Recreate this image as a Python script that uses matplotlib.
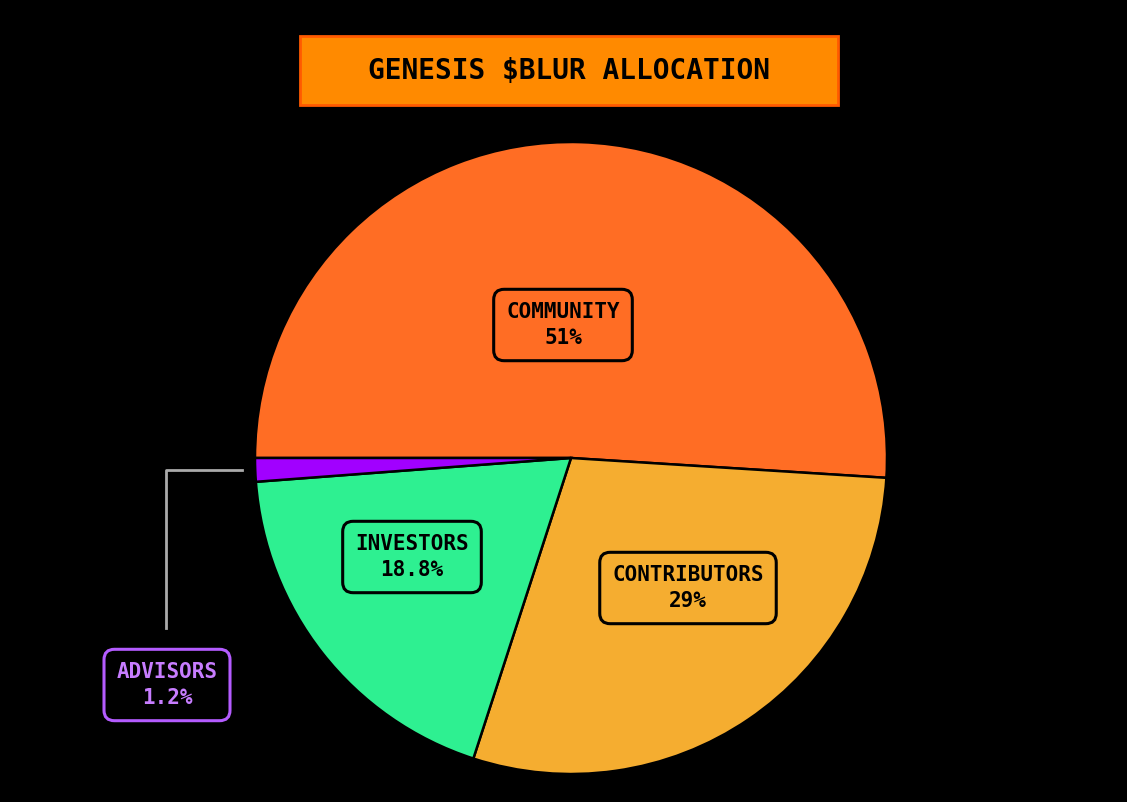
import matplotlib.pyplot as plt
from matplotlib.patches import Rectangle

labels = ["COMMUNITY", "CONTRIBUTORS", "INVESTORS", "ADVISORS"]
shares = [51, 29, 18.8, 1.2]
share_text = ["51%", "29%", "18.8%", "1.2%"]
colors = ["#FF6D24", "#F5AD30", "#2EF091", "#A100FF"]

W, H = 1127, 802
fig = plt.figure(figsize=(W / 100, H / 100), dpi=100, facecolor="black")
ax = fig.add_axes([0, 0, 1, 1])
ax.set_facecolor("black")
ax.set_xlim(0, W)
ax.set_ylim(0, H)
ax.set_aspect("equal")
ax.axis("off")

ax.pie(shares, colors=colors, startangle=180, counterclock=False,
       center=(571, H - 458), radius=316,
       wedgeprops=dict(edgecolor="black", linewidth=1.8))
ax.set_xlim(0, W)
ax.set_ylim(0, H)

font = dict(family="DejaVu Sans Mono", fontweight="bold", fontsize=15)

# title
ax.add_patch(Rectangle((300, H - 105), 538, 69, facecolor="#FF8A00",
                       edgecolor="#FF5A00", linewidth=2))
ax.text(569, H - 71, "GENESIS $BLUR ALLOCATION", ha="center", va="center",
        color="black", family="DejaVu Sans Mono", fontweight="bold", fontsize=20)

# label boxes
pos = [(563, 325), (688, 588), (412, 557), (167, 685)]
for i, (lab, txt) in enumerate(zip(labels, share_text)):
    x, y = pos[i]
    if lab == "ADVISORS":
        fc, ec, tc = "black", "#B45CFF", "#C77DFF"
    else:
        fc, ec, tc = colors[i], "black", "black"
    ax.text(x, H - y, f"{lab}\n{txt}", ha="center", va="center", color=tc,
            linespacing=1.4, **font,
            bbox=dict(boxstyle="round,pad=0.6,rounding_size=0.5",
                      facecolor=fc, edgecolor=ec, linewidth=2.2))

# advisors connector
ax.plot([242, 166, 166], [H - 470, H - 470, H - 628], color="#AAAAAA", lw=2)

fig.savefig("out.png", dpi=100, facecolor="black")
